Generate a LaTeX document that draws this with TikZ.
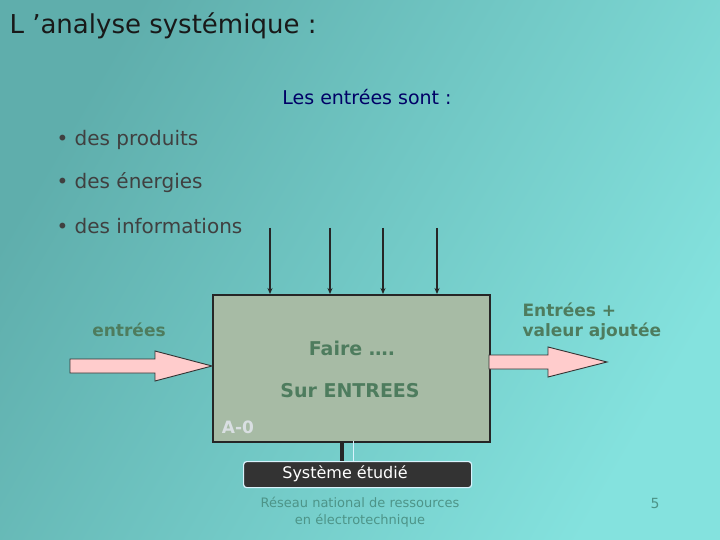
\documentclass[tikz,border=0pt]{standalone}
\usepackage{fontspec}
\setmainfont{DejaVu Sans}
\usetikzlibrary{arrows.meta}
\definecolor{bgA}{HTML}{84E2DE}
\definecolor{bgB}{HTML}{5FAEAC}
\definecolor{grn}{HTML}{4E7C5E}
\definecolor{boxf}{HTML}{A7BBA5}
\definecolor{foot}{HTML}{4D9488}
\begin{document}
\begin{tikzpicture}[x=1pt,y=-1pt,
  lbl/.style={text=grn, font=\bfseries\fontsize{19}{22}\selectfont},
  fat/.style={fill=pink!80!white, draw=black!80, line width=0.9pt},
  thin/.style={draw=black!85, line width=1.3pt, -{Stealth[length=6pt,width=5pt]}}]
\useasboundingbox (0,0) rectangle (720,540);
\shade[left color=bgB, right color=bgA, shading angle=60] (0,0) rectangle (720,540);
\node[anchor=west, font=\fontsize{26}{28}\selectfont, text=black!90] (title) at (6,26) {L 'analyse systémique :};
\node[text=blue!40!black, font=\fontsize{19}{22}\selectfont] (les) at (367,97) {Les entrées sont :};
\node[anchor=west, text=black!75, font=\fontsize{20}{24}\selectfont] (b1) at (53,140) {• des produits};
\node[anchor=west, text=black!75, font=\fontsize{20}{24}\selectfont] (b2) at (53,183) {• des énergies};
\node[anchor=west, text=black!75, font=\fontsize{20}{24}\selectfont] (b3) at (53,226) {• des informations};
\node[draw=black!85, line width=2pt, fill=boxf, minimum width=277pt, minimum height=147pt, anchor=north west] (box) at (212,294) {};
\foreach \x/\n in {270/a,330/b,383/c,437/d}{
  \coordinate (t\n) at (\x,228);
  \draw[thin] (t\n) -- (\x,294);
}
\node[lbl] (faire) at (352,348) {Faire ….};
\node[lbl] (sur) at (350,391) {Sur ENTREES};
\node[text=cyan!15!gray!30!white, font=\bfseries\fontsize{17}{19}\selectfont] (a0) at (238,427) {A-0};
\node[lbl, font=\bfseries\fontsize{17}{20}\selectfont] (ent) at (129,330) {entrées};
\node[lbl, font=\bfseries\fontsize{17}{20}\selectfont, align=left, anchor=west] (va) at (519,322) {Entrées +\\valeur ajoutée};
\draw[fat] (70,359) -- (155,359) -- (155,351) -- (212,366) -- (155,381) -- (155,373) -- (70,373) -- cycle;
\draw[fat] (489,355) -- (548,355) -- (548,347) -- (607,362) -- (548,377) -- (548,369) -- (489,369) -- cycle;
\draw[black!85, line width=4pt] (342,441) -- (342,462);
\draw[cyan!15!white, line width=1pt] (353,441) -- (353,462);
\node[draw=cyan!15!white, line width=1.2pt, fill=black!80, rounded corners=3pt, minimum width=228pt, minimum height=26pt, anchor=north west] (sys) at (243,461) {};
\node[text=white, font=\fontsize{16}{18}\selectfont] (syst) at (345,474) {Système étudié};
\node[text=foot, align=center, font=\fontsize{13}{17}\selectfont] (res) at (360,512) {Réseau national de ressources\\en électrotechnique};
\node[text=foot, font=\fontsize{14}{16}\selectfont] (num) at (655,503) {5};
\end{tikzpicture}
\end{document}
